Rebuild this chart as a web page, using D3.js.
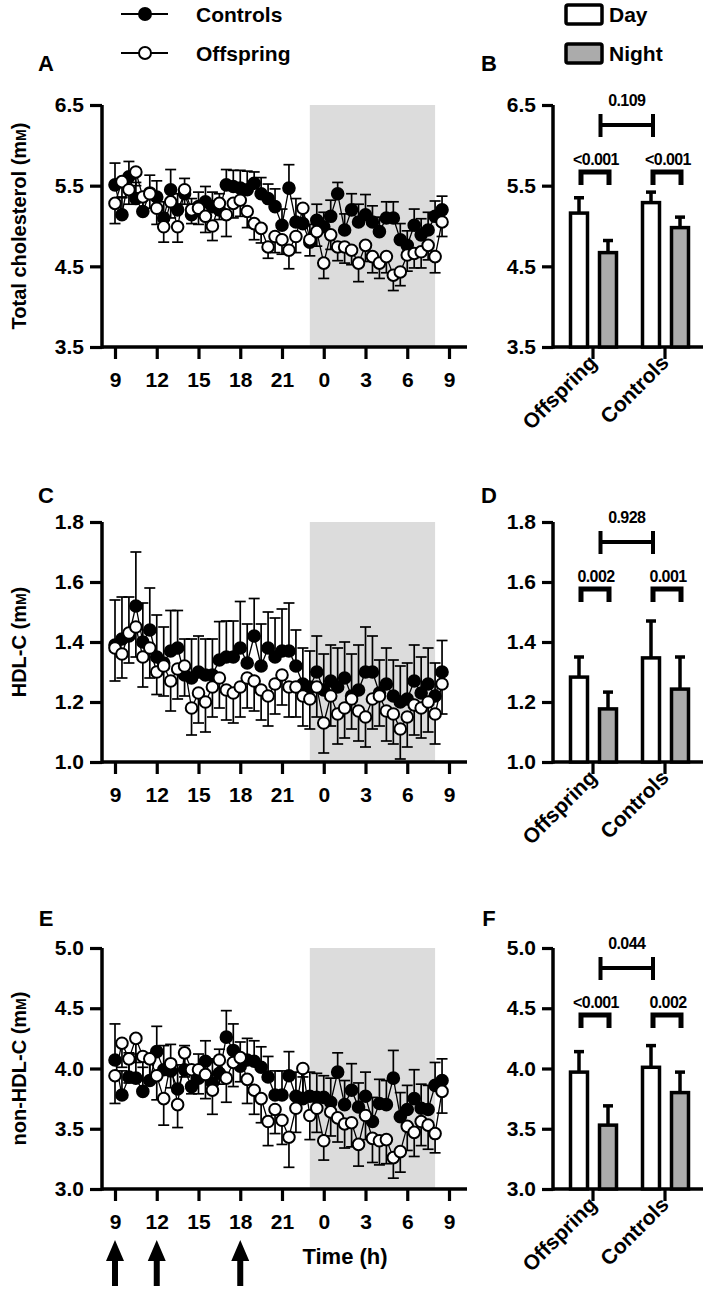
<!DOCTYPE html>
<html><head><meta charset="utf-8">
<script src="https://cdn.jsdelivr.net/npm/d3@7/dist/d3.min.js"></script>
<style>
body{margin:0;background:#fff}
svg text{font-family:"Liberation Sans",Arial,Helvetica,sans-serif;font-weight:bold;fill:#000}
</style>
</head><body>
<svg id="chart" width="709" height="1308"></svg>
<script>
// ---- sampling times (hours after 09:00) ----
const hours = [0,0.5,1,1.5,2,2.5,3,3.5,4,4.5,5,5.5,6,6.5,7,7.5,8,8.5,9,9.5,10,10.5,11,11.5,
               12,12.5,13,13.5,14,14.5,15,15.5,16,16.5,17,17.5,18,18.5,19,19.5,20,20.5,21,21.5,22,22.5,23,23.5];
const hourTicks = [0,3,6,9,12,15,18,21,24];
const hourTickLabels = ["9","12","15","18","21","0","3","6","9"];
const nightSpan = [14, 23];          // 23:00 -> 08:00
const mealHours = [0, 3, 9];         // 09:00, 12:00, 18:00

// ---- Panel A : total cholesterol ----
const tcControls = [5.51,5.14,5.61,5.34,5.18,5.41,5.36,5.10,5.45,5.20,5.40,5.14,5.24,5.30,5.24,5.20,5.51,5.49,5.47,5.45,5.53,5.40,5.34,5.24,
                    5.01,5.47,5.05,5.03,4.80,5.07,4.99,5.12,5.40,4.95,5.20,5.05,5.14,5.05,4.93,5.10,5.10,4.83,4.76,5.01,4.89,4.95,5.12,5.20];
const tcControlsErr = [0.27,0.22,0.19,0.20,0.18,0.22,0.20,0.20,0.25,0.20,0.19,0.20,0.18,0.19,0.18,0.20,0.19,0.20,0.22,0.23,0.14,0.20,0.18,0.22,
                       0.20,0.29,0.29,0.20,0.22,0.20,0.18,0.20,0.14,0.20,0.20,0.22,0.25,0.20,0.18,0.20,0.20,0.20,0.18,0.20,0.20,0.22,0.19,0.17];
const tcOffspring = [5.28,5.55,5.45,5.67,5.36,5.40,5.22,4.99,5.30,4.99,5.45,5.20,5.22,5.12,5.00,5.28,5.14,5.28,5.32,5.18,5.03,4.97,4.74,4.87,
                     4.83,4.70,4.87,5.22,4.83,4.93,4.54,4.89,4.74,4.74,4.70,4.54,4.76,4.62,4.54,4.62,4.39,4.43,4.64,4.66,4.68,4.76,4.62,5.05];
const tcOffspringErr = [0.25,0.20,0.18,0.17,0.20,0.18,0.20,0.19,0.20,0.19,0.18,0.17,0.20,0.20,0.18,0.20,0.27,0.18,0.20,0.20,0.20,0.18,0.14,0.20,
                        0.18,0.23,0.20,0.18,0.20,0.18,0.19,0.18,0.17,0.20,0.18,0.23,0.20,0.20,0.19,0.20,0.19,0.17,0.20,0.18,0.20,0.18,0.20,0.18];

// ---- Panel C : HDL-C ----
const hdlControls = [1.39,1.41,1.42,1.52,1.40,1.44,1.35,1.33,1.37,1.38,1.29,1.28,1.30,1.29,1.29,1.34,1.35,1.35,1.38,1.33,1.42,1.32,1.38,1.35,
                     1.37,1.37,1.32,1.26,1.25,1.30,1.24,1.27,1.25,1.28,1.22,1.24,1.30,1.30,1.23,1.26,1.22,1.20,1.21,1.27,1.23,1.26,1.22,1.30];
const hdlControlsErr = [0.15,0.14,0.13,0.18,0.13,0.14,0.14,0.12,0.135,0.125,0.12,0.13,0.12,0.12,0.12,0.128,0.12,0.12,0.155,0.13,0.125,0.14,0.12,0.13,
                        0.14,0.16,0.12,0.12,0.12,0.12,0.12,0.12,0.13,0.12,0.14,0.15,0.15,0.12,0.11,0.12,0.12,0.12,0.12,0.12,0.12,0.12,0.11,0.105];
const hdlOffspring = [1.38,1.36,1.43,1.45,1.35,1.38,1.30,1.32,1.27,1.31,1.32,1.18,1.23,1.20,1.25,1.28,1.24,1.23,1.25,1.28,1.27,1.24,1.22,1.26,
                      1.29,1.25,1.25,1.22,1.21,1.25,1.13,1.22,1.16,1.18,1.21,1.17,1.15,1.21,1.22,1.17,1.16,1.11,1.15,1.19,1.18,1.20,1.16,1.26];
const hdlOffspringErr = [0.11,0.08,0.10,0.10,0.10,0.10,0.075,0.10,0.10,0.10,0.10,0.09,0.10,0.10,0.10,0.10,0.10,0.10,0.10,0.10,0.10,0.10,0.10,0.10,
                         0.10,0.10,0.10,0.10,0.10,0.10,0.10,0.10,0.10,0.10,0.10,0.10,0.10,0.10,0.10,0.10,0.10,0.10,0.10,0.10,0.10,0.10,0.10,0.10];

// ---- Panel E : non-HDL-C ----
const nhdlControls = [4.07,3.78,3.93,3.92,3.81,3.90,4.14,3.99,3.98,3.83,3.99,3.85,3.92,4.06,3.88,3.96,4.26,4.15,4.02,4.07,4.06,4.01,3.93,3.78,
                      3.78,3.94,3.77,3.75,3.77,3.76,3.76,3.72,3.97,3.70,3.82,3.68,3.77,3.56,3.71,3.70,3.92,3.60,3.66,3.75,3.67,3.66,3.86,3.90];
const nhdlControlsErr = [0.30,0.20,0.20,0.20,0.20,0.20,0.21,0.20,0.22,0.20,0.20,0.18,0.20,0.17,0.20,0.20,0.22,0.22,0.20,0.18,0.17,0.17,0.17,0.20,
                         0.20,0.20,0.20,0.18,0.20,0.20,0.18,0.20,0.16,0.20,0.22,0.20,0.20,0.20,0.20,0.20,0.23,0.20,0.20,0.24,0.20,0.20,0.19,0.18];
const nhdlOffspring = [3.94,4.21,4.08,4.25,4.10,4.08,3.94,3.75,4.04,3.70,4.13,3.99,3.99,3.95,3.82,4.07,3.92,4.05,4.09,3.91,3.82,3.75,3.56,3.66,
                       3.57,3.43,3.67,4.00,3.61,3.67,3.40,3.64,3.59,3.54,3.55,3.37,3.61,3.42,3.40,3.41,3.26,3.31,3.52,3.47,3.56,3.53,3.46,3.81];
const nhdlOffspringErr = [0.23,0.20,0.20,0.20,0.20,0.20,0.20,0.22,0.20,0.19,0.20,0.20,0.20,0.20,0.20,0.20,0.20,0.20,0.20,0.20,0.20,0.20,0.20,0.20,
                          0.20,0.25,0.20,0.20,0.20,0.20,0.16,0.20,0.20,0.20,0.20,0.18,0.20,0.20,0.20,0.20,0.17,0.17,0.20,0.20,0.20,0.20,0.16,0.18];

// ---- Bar panels (Day / Night means, SEM) ----
const groups = ["Offspring","Controls"];
const periods = ["Day","Night"];
const tcDay = [5.16,5.29],   tcDayErr = [0.19,0.13],   tcNight = [4.67,4.98],   tcNightErr = [0.15,0.13];
const hdlDay = [1.283,1.347], hdlDayErr = [0.067,0.123], hdlNight = [1.177,1.243], hdlNightErr = [0.056,0.107];
const nhdlDay = [3.97,4.01], nhdlDayErr = [0.17,0.18], nhdlNight = [3.53,3.80], nhdlNightErr = [0.16,0.17];
const tcP = ["<0.001","<0.001","0.109"];
const hdlP = ["0.002","0.001","0.928"];
const nhdlP = ["<0.001","0.002","0.044"];

const yTicksTC = [3.5,4.5,5.5,6.5];
const yTicksHDL = [1.0,1.2,1.4,1.6,1.8];
const yTicksNHDL = [3.0,3.5,4.0,4.5,5.0];

// =====================================================
const svg = d3.select("#chart");
const FS = 21;
const nightFill = "#dcdcdc";
const barNightFill = "#ababab";

const x = d3.scaleLinear().domain([0,24]).range([115,449]);
const AXL = 102, AXR = 467;        // left panel axis extent
const BXL = 553, BXR = 703;        // right panel axis extent

function yTitle(g, cx, cy, main) {
  const t = g.append("text").attr("transform",`translate(${cx},${cy}) rotate(-90)`)
    .attr("text-anchor","middle").style("font-size","20px");
  t.append("tspan").text(main + " (m");
  t.append("tspan").style("font-size","14px").text("M");
  t.append("tspan").text(")");
}

function styleAxis(ax) {
  ax.select(".domain").remove();
  ax.selectAll(".tick line").attr("stroke","#000").attr("stroke-width",3.2);
  ax.selectAll(".tick text").style("font-size",FS+"px").style("font-family",'"Liberation Sans",Arial,sans-serif').style("font-weight","bold");
}

function timePanel(cfg) {
  const y = d3.scaleLinear().domain(cfg.domain).range([cfg.yBot, cfg.yTop]);
  const g = svg.append("g");
  g.append("rect").attr("x", x(nightSpan[0])).attr("width", x(nightSpan[1]) - x(nightSpan[0]))
    .attr("y", cfg.yTop).attr("height", cfg.yBot - cfg.yTop).attr("fill", nightFill);
  const ax = g.append("g").attr("transform",`translate(0,${cfg.yBot})`)
    .call(d3.axisBottom(x).tickValues(hourTicks).tickFormat((d,i)=>hourTickLabels[i]).tickSize(12).tickPadding(13));
  styleAxis(ax);
  const ay = g.append("g").attr("transform",`translate(${AXL},0)`)
    .call(d3.axisLeft(y).tickValues(cfg.ticks).tickFormat(d3.format(".1f")).tickSize(12).tickPadding(6));
  styleAxis(ay);
  g.append("line").attr("x1",AXL).attr("x2",AXR).attr("y1",cfg.yBot).attr("y2",cfg.yBot).attr("stroke","#000").attr("stroke-width",3.5);
  g.append("line").attr("x1",AXL).attr("x2",AXL).attr("y1",cfg.yTop).attr("y2",cfg.yBot+1.7).attr("stroke","#000").attr("stroke-width",3.5);
  yTitle(g, 26, (cfg.yTop+cfg.yBot)/2, cfg.title);
  g.append("text").attr("x",46).attr("y",cfg.labelY).attr("text-anchor","middle").style("font-size","22px").text(cfg.letter);

  const series = [
    {v: cfg.ctrl, e: cfg.ctrlErr, dir: 1, fill: "#000"},
    {v: cfg.off, e: cfg.offErr, dir: -1, fill: "#fff"}
  ];
  const line = d3.line().x((d,i)=>x(hours[i])).y(d=>y(d));
  series.forEach(s => {
    const eb = g.append("g");
    s.v.forEach((v,i) => {
      const ye = y(v + s.dir * s.e[i]);
      eb.append("line").attr("x1",x(hours[i])).attr("x2",x(hours[i])).attr("y1",y(v)).attr("y2",ye).attr("stroke","#000").attr("stroke-width",1.7);
      eb.append("line").attr("x1",x(hours[i])-5.5).attr("x2",x(hours[i])+5.5).attr("y1",ye).attr("y2",ye).attr("stroke","#000").attr("stroke-width",1.7);
    });
  });
  series.forEach(s => {
    g.append("path").datum(s.v).attr("d", line).attr("fill","none").attr("stroke","#000").attr("stroke-width",1.3);
  });
  series.forEach(s => {
    g.append("g").selectAll("circle").data(s.v).join("circle")
      .attr("cx",(d,i)=>x(hours[i])).attr("cy",d=>y(d)).attr("r",5.8)
      .attr("fill",s.fill).attr("stroke","#000").attr("stroke-width",2);
  });
}

const x0 = d3.scaleBand().domain(groups).range([557,701]);
const x1 = d3.scaleBand().domain(periods).range([13.5,59.5]).paddingInner(0.414);

function barPanel(cfg) {
  const y = d3.scaleLinear().domain(cfg.domain).range([cfg.yBot, cfg.yTop]);
  const g = svg.append("g");
  const ay = g.append("g").attr("transform",`translate(${BXL},0)`)
    .call(d3.axisLeft(y).tickValues(cfg.ticks).tickFormat(d3.format(".1f")).tickSize(11).tickPadding(6));
  styleAxis(ay);
  const ax = g.append("g").attr("transform",`translate(0,${cfg.yBot})`)
    .call(d3.axisBottom(x0).tickSize(12).tickFormat(""));
  styleAxis(ax);
  g.append("line").attr("x1",BXL).attr("x2",BXR).attr("y1",cfg.yBot).attr("y2",cfg.yBot).attr("stroke","#000").attr("stroke-width",3.5);
  g.append("line").attr("x1",BXL).attr("x2",BXL).attr("y1",cfg.yTop).attr("y2",cfg.yBot+1.7).attr("stroke","#000").attr("stroke-width",3.5);
  g.append("text").attr("x",489).attr("y",cfg.labelY).attr("text-anchor","middle").style("font-size","22px").text(cfg.letter);

  groups.forEach((grp,gi) => {
    const vals = [cfg.day[gi], cfg.night[gi]];
    const errs = [cfg.dayErr[gi], cfg.nightErr[gi]];
    periods.forEach((p,pi) => {
      const bx = x0(grp) + x1(p), bw = x1.bandwidth();
      const cx = bx + bw/2;
      const ye = y(vals[pi] + errs[pi]);
      g.append("line").attr("x1",cx).attr("x2",cx).attr("y1",y(vals[pi])).attr("y2",ye).attr("stroke","#000").attr("stroke-width",3.5);
      g.append("line").attr("x1",cx-5).attr("x2",cx+5).attr("y1",ye).attr("y2",ye).attr("stroke","#000").attr("stroke-width",3.5);
      g.append("rect").attr("x",bx).attr("width",bw).attr("y",y(vals[pi])).attr("height",y(cfg.domain[0]) - y(vals[pi]))
        .attr("fill", pi===0 ? "#fff" : barNightFill).attr("stroke","#000").attr("stroke-width",3.5);
    });
    const l = x0(grp) + x1("Day") + x1.bandwidth()/2 + 2, r = x0(grp) + x1("Night") + x1.bandwidth()/2 + 1;
    const by = cfg.yTop + 67;
    g.append("path").attr("d",`M${l},${by+13}V${by}H${r}V${by+13}`).attr("fill","none").attr("stroke","#000").attr("stroke-width",5);
    g.append("text").attr("x",(l+r)/2 + 1).attr("y",by-7).attr("text-anchor","middle").style("font-size","16px")
      .style("letter-spacing","-0.6px").text(cfg.p[gi]);
    g.append("text").attr("transform",`translate(${x0(grp)+x0.bandwidth()/2+5},${cfg.yBot+17}) rotate(-45)`)
      .attr("text-anchor","end").style("font-size","21px").text(grp);
  });
  const gl = x0("Offspring") + x1("Night") + 1, gr = x0("Controls") + x1("Day") + x1.bandwidth()/2 + 2;
  const gy = cfg.yTop + 20;
  g.append("line").attr("x1",gl).attr("x2",gr).attr("y1",gy).attr("y2",gy).attr("stroke","#000").attr("stroke-width",4);
  [gl,gr].forEach(xx => g.append("line").attr("x1",xx).attr("x2",xx).attr("y1",gy-11).attr("y2",gy+12).attr("stroke","#000").attr("stroke-width",4));
  g.append("text").attr("x",(gl+gr)/2).attr("y",gy-19).attr("text-anchor","middle").style("font-size","16px")
    .style("letter-spacing","-0.6px").text(cfg.p[2]);
}

const rows = [
  {yTop:105, yBot:347, domain:[3.5,6.5], ticks:yTicksTC, title:"Total cholesterol", labelY:71, letter:"A", letter2:"B",
   ctrl:tcControls, ctrlErr:tcControlsErr, off:tcOffspring, offErr:tcOffspringErr,
   day:tcDay, dayErr:tcDayErr, night:tcNight, nightErr:tcNightErr, p:tcP},
  {yTop:522, yBot:762, domain:[1.0,1.8], ticks:yTicksHDL, title:"HDL-C", labelY:503, letter:"C", letter2:"D",
   ctrl:hdlControls, ctrlErr:hdlControlsErr, off:hdlOffspring, offErr:hdlOffspringErr,
   day:hdlDay, dayErr:hdlDayErr, night:hdlNight, nightErr:hdlNightErr, p:hdlP},
  {yTop:948, yBot:1189, domain:[3.0,5.0], ticks:yTicksNHDL, title:"non-HDL-C", labelY:926, letter:"E", letter2:"F",
   ctrl:nhdlControls, ctrlErr:nhdlControlsErr, off:nhdlOffspring, offErr:nhdlOffspringErr,
   day:nhdlDay, dayErr:nhdlDayErr, night:nhdlNight, nightErr:nhdlNightErr, p:nhdlP}
];
rows.forEach(r => {
  timePanel(r);
  barPanel(Object.assign({}, r, {letter: r.letter2}));
});

svg.append("text").attr("x",345).attr("y",1264).attr("text-anchor","middle").style("font-size","22px").text("Time (h)");
mealHours.forEach(h => {
  const cx = x(h);
  svg.append("path").attr("d",`M${cx},1240 L${cx+9},1261 L${cx+3},1261 L${cx+3},1286 L${cx-3},1286 L${cx-3},1261 L${cx-9},1261 Z`)
    .attr("fill","#000");
});

const leg = svg.append("g");
[["Controls","#000",14],["Offspring","#fff",53]].forEach(([lab,fill,ly]) => {
  leg.append("line").attr("x1",121).attr("x2",168).attr("y1",ly).attr("y2",ly).attr("stroke","#000").attr("stroke-width",2);
  leg.append("circle").attr("cx",145).attr("cy",ly).attr("r",6).attr("fill",fill).attr("stroke","#000").attr("stroke-width",2);
  leg.append("text").attr("x",196).attr("y",ly+7.5).style("font-size","21px").text(lab);
});
[["Day","#fff",5],["Night",barNightFill,44]].forEach(([lab,fill,ly]) => {
  leg.append("rect").attr("x",566).attr("y",ly).attr("width",36).attr("height",19).attr("rx",2)
    .attr("fill",fill).attr("stroke","#000").attr("stroke-width",3.5);
  leg.append("text").attr("x",609).attr("y",ly+17).style("font-size","21px").text(lab);
});
</script>
</body></html>
